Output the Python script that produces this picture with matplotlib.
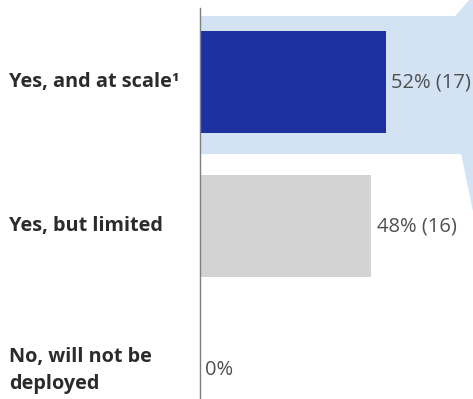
import matplotlib.pyplot as plt
from matplotlib.patches import Polygon

# データ
categories = ['Yes, and at scale\u00b9', 'Yes, but limited', 'No, will not be\ndeployed']
shares = [52, 48, 0]
counts = [17, 16, None]
colors = ['#1E31A0', '#D3D3D3', '#D3D3D3']

plt.rcParams['font.family'] = ['Open Sans', 'DejaVu Sans']

fig = plt.figure(figsize=(4.73, 3.99), dpi=100)
ax = fig.add_axes([200 / 473, 0, 273 / 473, 391 / 399])

# 吹き出し風の背景（1行目を強調）
callout = Polygon(
    [(0, -0.458), (71.5, -0.458), (75.8, -0.58), (77, -0.58),
     (77, 0.96), (73.2, 0.5), (0, 0.5)],
    closed=True, facecolor='#D3E3F4', edgecolor='none', zorder=0, clip_on=False,
)
ax.add_patch(callout)

# 棒グラフ
y = range(len(categories))
ax.barh(y, shares, height=0.705, color=colors, zorder=2)

# 値ラベル
for i, (s, c) in enumerate(zip(shares, counts)):
    label = f'{s}%' if c is None else f'{s}% ({c})'
    ax.text(s + 1.5, i, label, va='center', ha='left', fontsize=14.5, color='#505050')

# カテゴリラベル（左揃え）
for i, name in enumerate(categories):
    ax.text(-53.6, i, name, va='center', ha='left', fontsize=14.3, fontweight='bold',
            color='#2B2B2B', linespacing=1.45, clip_on=False)

ax.set_xlim(0, 76.5)
ax.set_ylim(2.2, -0.514)
ax.set_xticks([])
ax.set_yticks([])
for side in ['top', 'right', 'bottom']:
    ax.spines[side].set_visible(False)
ax.spines['left'].set_color('#7F7F7F')
ax.spines['left'].set_linewidth(1.0)
ax.patch.set_alpha(0)

fig.savefig('out.png', dpi=100)
